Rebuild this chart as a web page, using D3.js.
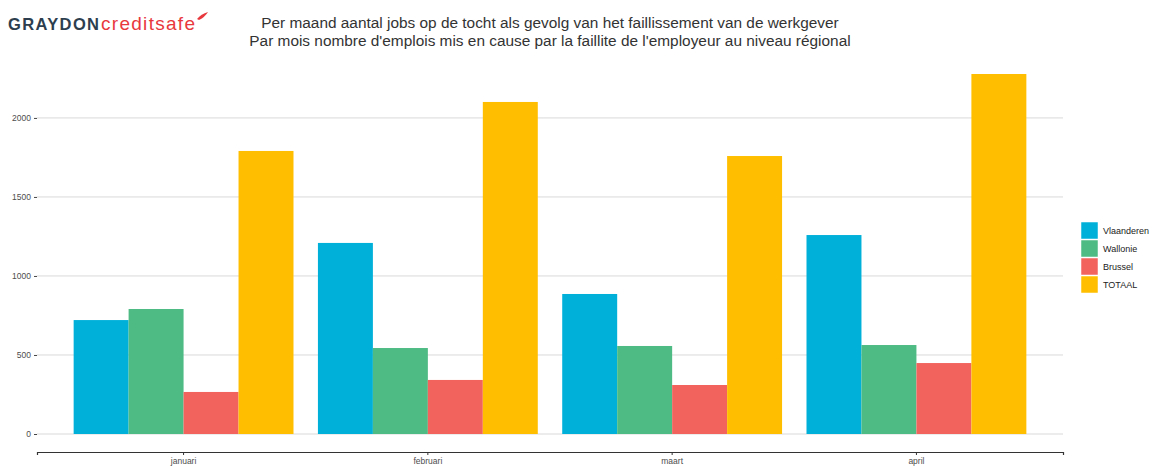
<!DOCTYPE html>
<html><head><meta charset="utf-8">
<script src="https://cdn.jsdelivr.net/npm/d3@7"></script>
<style>body{margin:0;background:#fff;}svg{display:block;font-family:"Liberation Sans",Arial,sans-serif;}</style>
</head><body>
<svg id="c" width="1153" height="466"></svg>
<script>
const months = ["januari","februari","maart","april"];
const series = ["Vlaanderen","Wallonie","Brussel","TOTAAL"];
const vlaanderen = [721, 1209, 886, 1259];
const wallonie = [791, 544, 557, 563];
const brussel = [266, 342, 310, 449];
const totaal = [1791, 2101, 1759, 2278];
const colors = ["#00b0d9","#4dbb83","#f2635e","#ffbf00"];
const yTicks = [0, 500, 1000, 1500, 2000];
const titleLines = ["Per maand aantal jobs op de tocht als gevolg van het faillissement van de werkgever",
  "Par mois nombre d'emplois mis en cause par la faillite de l'employeur au niveau régional"];

const values = [vlaanderen, wallonie, brussel, totaal];
const svg = d3.select("#c");
const L = 37, R = 1063, T = 56, B = 452;
const maxV = d3.max(values.flat());
const minV = 0;
const pad = (maxV - minV) * 0.05;
const y = d3.scaleLinear().domain([minV - pad, maxV + pad]).range([B, T]);
const x = d3.scaleBand().domain(months).range([L, R]).paddingInner(0.1).paddingOuter(0.15);
const xs = d3.scaleBand().domain(series).range([0, x.bandwidth()]);

// gridlines
svg.append("g").selectAll("line").data(yTicks).join("line")
  .attr("x1", L).attr("x2", R).attr("y1", d => y(d)).attr("y2", d => y(d))
  .attr("stroke", "#d9d9d9").attr("stroke-width", 1);

// y axis
const ya = svg.append("g").attr("transform", `translate(${L},0)`)
  .call(d3.axisLeft(y).tickValues(yTicks).tickFormat(d3.format("d")).tickSize(3).tickPadding(3));
ya.select(".domain").remove();
ya.selectAll(".tick line").attr("stroke", "#444");
ya.selectAll("text").attr("font-size", 8.5).attr("fill", "#4d4d4d").attr("font-family", "Liberation Sans, Arial");

// bars
const g = svg.append("g");
months.forEach((m, i) => {
  series.forEach((s, j) => {
    g.append("rect").attr("x", x(m) + xs(s)).attr("width", xs.bandwidth())
      .attr("y", y(values[j][i])).attr("height", y(0) - y(values[j][i]))
      .attr("fill", colors[j]);
  });
});

// x axis
const xa = svg.append("g").attr("transform", `translate(0,${B})`)
  .call(d3.axisBottom(x).tickSizeOuter(0).tickSize(3).tickPadding(3));
xa.select(".domain").attr("stroke", "#333").attr("stroke-width", 1.2);
xa.selectAll(".tick line").attr("stroke", "#333");
xa.selectAll("text").attr("font-size", 8.5).attr("fill", "#4d4d4d").attr("font-family", "Liberation Sans, Arial");

// title
const cx = (L + R) / 2;
titleLines.forEach((t, i) => {
  svg.append("text").attr("x", cx).attr("y", 28 + i * 18).attr("text-anchor", "middle")
    .attr("font-size", 15.4).attr("fill", "#333").text(t);
});

// legend
const lg = svg.append("g").attr("transform", "translate(1081,222)");
series.forEach((s, j) => {
  lg.append("rect").attr("x", 0).attr("y", j * 18).attr("width", 17).attr("height", 17)
    .attr("fill", colors[j]).attr("stroke", "#fff").attr("stroke-width", 0.5);
  lg.append("text").attr("x", 22).attr("y", j * 18 + 12).attr("font-size", 9)
    .attr("fill", "#222").text(s);
});

// logo
svg.append("text").attr("x", 8).attr("y", 30).attr("font-size", 16.5).attr("font-weight", "bold")
  .attr("fill", "#2d3e4f").attr("textLength", 91).attr("lengthAdjust", "spacing").text("GRAYDON");
svg.append("text").attr("x", 101).attr("y", 30).attr("font-size", 19)
  .attr("fill", "#e8383d").attr("textLength", 94).attr("lengthAdjust", "spacing").text("creditsafe");
svg.append("path").attr("d", "M197,19 Q201,14 208,12 Q205,17 199,20 Z").attr("fill", "#e8383d");
</script>
</body></html>
